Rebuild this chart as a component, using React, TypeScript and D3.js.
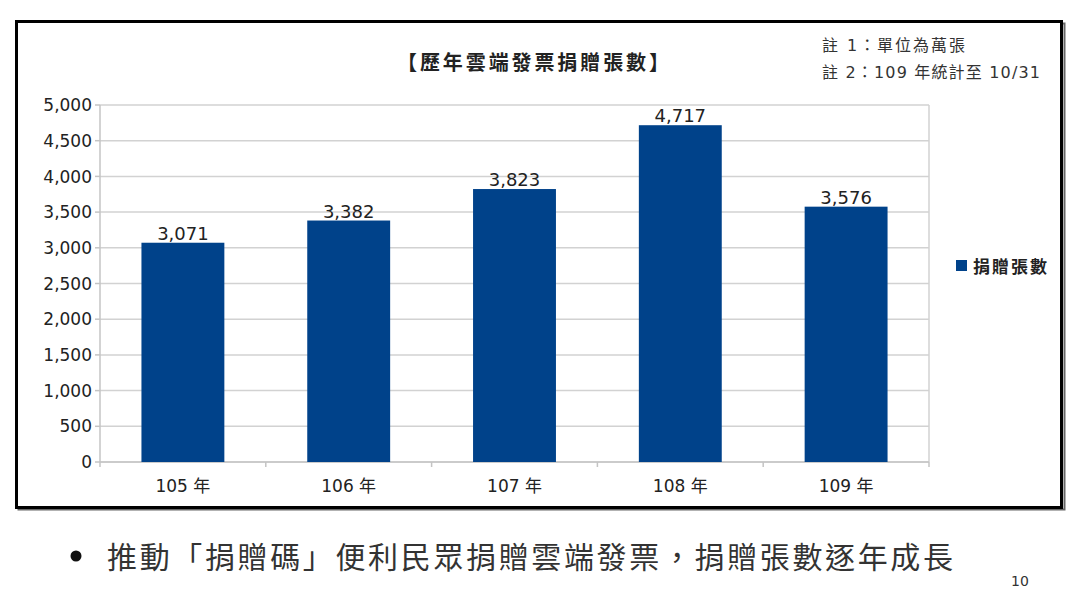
import React from "react";
import * as d3 from "d3";

const categories = ["105 年", "106 年", "107 年", "108 年", "109 年"];
const donations = [3071, 3382, 3823, 4717, 3576];
const yTicks = [0, 500, 1000, 1500, 2000, 2500, 3000, 3500, 4000, 4500, 5000];
const seriesName = "捐贈張數";
const title = "【歷年雲端發票捐贈張數】";
const notes = ["註 1：單位為萬張", "註 2：109 年統計至 10/31"];
const bulletText = "推動「捐贈碼」便利民眾捐贈雲端發票，捐贈張數逐年成長";
const pageNumber = "10";

const W = 1080;
const H = 593;
const plot = { left: 100, right: 929, top: 105, bottom: 462 };
const barColor = "#00428a";
const cjk = "'DejaVu Sans', 'Noto Sans CJK TC', sans-serif";
const num = "'DejaVu Sans', 'Noto Sans CJK TC', sans-serif";
const fmt = d3.format(",");

export default function App() {
  const x = d3
    .scaleBand<string>()
    .domain(categories)
    .range([plot.left, plot.right])
    .paddingInner(0.5)
    .paddingOuter(0.25);
  const y = d3.scaleLinear().domain([0, 5000]).range([plot.bottom, plot.top]);
  const bandStep = (plot.right - plot.left) / categories.length;
  const boundaries = d3.range(categories.length + 1).map((i) => plot.left + i * bandStep);

  return (
    <svg
      width={W}
      height={H}
      style={{ position: "absolute", left: 0, top: 0, background: "#fff" }}
    >
      <rect x={0} y={0} width={W} height={H} fill="#fff" />
      {/* frame shadow */}
      <rect x={18.5} y={23.5} width={1046} height={486} fill="none" stroke="#666" strokeWidth={2} />
      <rect x={16.5} y={21.5} width={1045} height={486} fill="#fff" stroke="#000" strokeWidth={3} />

      {/* gridlines */}
      {yTicks.map((t) => (
        <line
          key={"g" + t}
          x1={plot.left}
          x2={plot.right}
          y1={y(t)}
          y2={y(t)}
          stroke="#d2d2d2"
          strokeWidth={1.5}
        />
      ))}
      <line x1={plot.right} x2={plot.right} y1={plot.top} y2={plot.bottom} stroke="#d2d2d2" strokeWidth={1.5} />
      {/* y axis */}
      <line x1={plot.left} x2={plot.left} y1={plot.top} y2={plot.bottom} stroke="#c4c4c4" strokeWidth={1.5} />
      {yTicks.map((t) => (
        <g key={"yt" + t}>
          <line x1={plot.left - 5} x2={plot.left} y1={y(t)} y2={y(t)} stroke="#c4c4c4" strokeWidth={1.5} />
          <text
            x={plot.left - 8}
            y={y(t)}
            dy="0.36em"
            textAnchor="end"
            fontFamily={num}
            fontSize={17}
            fill="#222"
          >
            {fmt(t)}
          </text>
        </g>
      ))}
      {/* x axis */}
      <line x1={plot.left} x2={plot.right} y1={plot.bottom} y2={plot.bottom} stroke="#c4c4c4" strokeWidth={1.5} />
      {boundaries.map((b, i) => (
        <line key={"xt" + i} x1={b} x2={b} y1={plot.bottom} y2={plot.bottom + 5} stroke="#c4c4c4" strokeWidth={1.5} />
      ))}
      {categories.map((c) => (
        <text
          key={"xl" + c}
          x={(x(c) as number) + x.bandwidth() / 2}
          y={492}
          textAnchor="middle"
          fontFamily={num}
          fontSize={17}
          fill="#222"
        >
          {c}
        </text>
      ))}

      {/* bars */}
      {categories.map((c, i) => (
        <g key={"b" + c}>
          <rect
            x={x(c) as number}
            y={y(donations[i])}
            width={x.bandwidth()}
            height={plot.bottom - y(donations[i])}
            fill={barColor}
          />
          <text
            x={(x(c) as number) + x.bandwidth() / 2}
            y={y(donations[i]) - 3}
            textAnchor="middle"
            fontFamily={num}
            fontSize={18}
            fill="#222"
          >
            {fmt(donations[i])}
          </text>
        </g>
      ))}

      {/* title */}
      <text
        x={397}
        y={70}
        textLength={272}
        lengthAdjust="spacing"
        fontFamily={cjk}
        fontSize={20}
        fontWeight="bold"
        fill="#222"
      >
        {title}
      </text>
      {/* notes */}
      {notes.map((n, i) => (
        <text
          key={"n" + i}
          x={822}
          y={51 + i * 26.5}
          textLength={i === 0 ? 143 : 218}
          lengthAdjust="spacing"
          fontFamily={cjk}
          fontSize={16}
          fill="#333"
        >
          {n}
        </text>
      ))}

      {/* legend */}
      <rect x={956} y={260} width={11} height={11} fill={barColor} />
      <text
        x={973}
        y={273}
        textLength={74}
        lengthAdjust="spacing"
        fontFamily={cjk}
        fontSize={17}
        fontWeight="bold"
        fill="#222"
      >
        {seriesName}
      </text>

      {/* bullet */}
      <circle cx={76} cy={556} r={5.5} fill="#111" />
      <text
        x={107}
        y={568}
        textLength={846}
        lengthAdjust="spacing"
        fontFamily={cjk}
        fontSize={30}
        fill="#333"
      >
        {bulletText}
      </text>
      <text x={1011} y={586} fontFamily={num} fontSize={14} fill="#333">
        {pageNumber}
      </text>
    </svg>
  );
}
